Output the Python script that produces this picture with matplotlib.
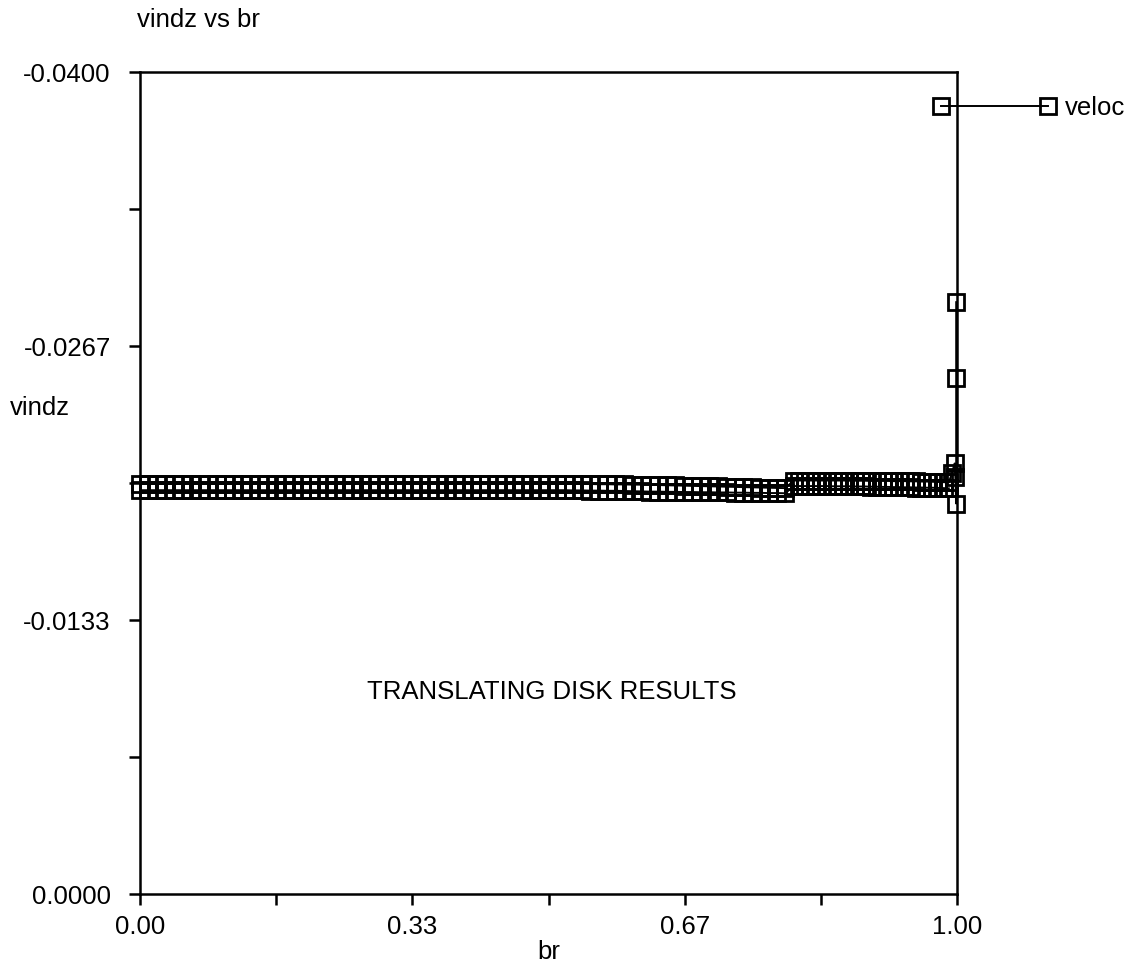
import matplotlib
matplotlib.use("Agg")
import matplotlib.pyplot as plt
from matplotlib.lines import Line2D

plt.rcParams['font.family'] = ['Liberation Sans', 'DejaVu Sans']

# ---------------- data ----------------
br_inner = [0.000, 0.010, 0.021, 0.031, 0.042, 0.052, 0.062, 0.073, 0.083, 0.094,
            0.104, 0.114, 0.125, 0.135, 0.146, 0.156, 0.166, 0.177, 0.187, 0.198,
            0.208, 0.218, 0.229, 0.239, 0.250, 0.260, 0.270, 0.281, 0.291, 0.302,
            0.312, 0.322, 0.333, 0.343, 0.354, 0.364, 0.374, 0.385, 0.395, 0.406,
            0.416, 0.426, 0.437, 0.447, 0.458, 0.468, 0.478, 0.489, 0.499, 0.510,
            0.520, 0.530, 0.541, 0.551, 0.562, 0.572, 0.582, 0.593, 0.603, 0.614,
            0.624, 0.634, 0.645, 0.655, 0.666, 0.676, 0.686, 0.697, 0.707, 0.718,
            0.728, 0.738, 0.749, 0.759, 0.770, 0.780, 0.790]
vindz_inner_a = [
    -0.01995, -0.01995, -0.01995, -0.01995, -0.01995, -0.01995, -0.01995, -0.01995, -0.01995, -0.01995,
    -0.01995, -0.01995, -0.01995, -0.01995, -0.01995, -0.01995, -0.01995, -0.01995, -0.01995, -0.01995,
    -0.01995, -0.01995, -0.01995, -0.01995, -0.01995, -0.01995, -0.01995, -0.01995, -0.01995, -0.01995,
    -0.01995, -0.01995, -0.01995, -0.01995, -0.01995, -0.01995, -0.01995, -0.01995, -0.01995, -0.01995,
    -0.01995, -0.01995, -0.01995, -0.01995, -0.01995, -0.01995, -0.01995, -0.01995, -0.01995, -0.01995,
    -0.01995, -0.01995, -0.01995, -0.01995, -0.01994, -0.01994, -0.01993, -0.01993, -0.01992, -0.01992,
    -0.01991, -0.01990, -0.01989, -0.01988, -0.01987, -0.01986, -0.01985, -0.01984, -0.01983, -0.01982,
    -0.01981, -0.01980, -0.01979, -0.01978, -0.01977, -0.01976, -0.01975]
vindz_inner_b = [
    -0.01965, -0.01965, -0.01965, -0.01965, -0.01965, -0.01965, -0.01965, -0.01965, -0.01965, -0.01965,
    -0.01965, -0.01965, -0.01965, -0.01965, -0.01965, -0.01965, -0.01965, -0.01965, -0.01965, -0.01965,
    -0.01965, -0.01965, -0.01965, -0.01965, -0.01965, -0.01965, -0.01965, -0.01965, -0.01965, -0.01965,
    -0.01965, -0.01965, -0.01965, -0.01965, -0.01965, -0.01965, -0.01965, -0.01965, -0.01965, -0.01965,
    -0.01965, -0.01965, -0.01965, -0.01965, -0.01965, -0.01965, -0.01965, -0.01965, -0.01965, -0.01965,
    -0.01965, -0.01964, -0.01964, -0.01963, -0.01963, -0.01962, -0.01962, -0.01961, -0.01960, -0.01959,
    -0.01958, -0.01958, -0.01957, -0.01957, -0.01956, -0.01956, -0.01955, -0.01955, -0.01954, -0.01954,
    -0.01953, -0.01953, -0.01952, -0.01952, -0.01951, -0.01951, -0.01950]

br_outer = [0.800, 0.807, 0.814, 0.820, 0.827, 0.834, 0.841, 0.848, 0.854, 0.861,
            0.868, 0.875, 0.882, 0.888, 0.895, 0.902, 0.909, 0.916, 0.922, 0.929,
            0.936, 0.943, 0.950, 0.956, 0.963, 0.970, 0.977, 0.984, 0.990]
vindz_outer_a = [-0.02012, -0.02012, -0.02012, -0.02012, -0.02012, -0.02012, -0.02012, -0.02012, -0.02012, -0.02012,
                 -0.02011, -0.02011, -0.02011, -0.02011, -0.02010, -0.02010, -0.02010, -0.02010, -0.02009, -0.02009,
                 -0.02009, -0.02008, -0.02008, -0.02007, -0.02007, -0.02006, -0.02005, -0.02004, -0.02003]
vindz_outer_b = [-0.01985, -0.01985, -0.01985, -0.01985, -0.01985, -0.01985, -0.01985, -0.01984, -0.01984, -0.01984,
                 -0.01984, -0.01983, -0.01983, -0.01983, -0.01982, -0.01982, -0.01981, -0.01981, -0.01980, -0.01980,
                 -0.01979, -0.01979, -0.01978, -0.01978, -0.01977, -0.01977, -0.01976, -0.01975, -0.01974]

br_edge = [0.994, 0.997, 0.998, 0.999, 0.999, 0.999]
vindz_edge = [-0.02050, -0.02095, -0.02030, -0.01900, -0.02510, -0.02880]

series_label = "veloc"
x_ticks = [0.0, 1/3, 2/3, 1.0]
x_ticklabels = ["0.00", "0.33", "0.67", "1.00"]
x_minor = [1/6, 0.5, 5/6]
y_ticks = [0.0, -0.04/3, -0.08/3, -0.04]
y_ticklabels = ["0.0000", "-0.0133", "-0.0267", "-0.0400"]
y_minor = [-0.02/3, -0.02, -0.10/3]

# ---------------- figure ----------------
fig = plt.figure(figsize=(11.36, 9.68), dpi=100)
ax = fig.add_axes([140/1136, 1 - 894/968, (957 - 140)/1136, (894 - 72)/968])

style = dict(color='black', lw=1.4, marker='s', ms=12, mfc='none', mec='black', mew=2.0)
ax.plot(br_inner + br_outer + br_edge, vindz_inner_a + vindz_outer_a + vindz_edge,
        clip_on=False, **style)
ax.plot(br_inner + br_outer, vindz_inner_b + vindz_outer_b, clip_on=False, **style)

ax.set_xlim(0, 1)
ax.set_ylim(0, -0.04)

ax.set_xticks(x_ticks)
ax.set_xticklabels(x_ticklabels)
ax.set_xticks(x_minor, minor=True)
ax.set_yticks(y_ticks)
ax.set_yticklabels(y_ticklabels)
ax.set_yticks(y_minor, minor=True)

for side in ['left', 'right', 'top', 'bottom']:
    ax.spines[side].set_linewidth(1.8)
ax.tick_params(axis='both', which='both', direction='out', length=8, width=1.8,
               labelsize=18.5, top=False, right=False)
ax.tick_params(axis='y', which='both', pad=13)
ax.tick_params(axis='x', which='both', pad=7)

ax.set_xlabel("br", fontsize=18.5)
ax.xaxis.set_label_coords(0.5, (894 - 952) / 822, transform=ax.transAxes)
ax.xaxis.label.set_va('center')
ax.set_ylabel("vindz", fontsize=18.5, rotation=0, ha='left', va='center')
ax.yaxis.set_label_coords((10 - 140) / 817, (894 - 408) / 822)

fig.text(137/1136, 1 - 20/968, "vindz vs br", fontsize=18.5, ha='left', va='center')
ax.text(0.504, -0.00983, "TRANSLATING DISK RESULTS", fontsize=18.5, ha='center', va='center')

handle = Line2D([], [], **style)
ax.legend([handle], [series_label], loc='center left',
          bbox_to_anchor=(933.5/1136, 1 - 108/968), bbox_transform=fig.transFigure,
          frameon=False, numpoints=2, handlelength=4.75, handletextpad=0.35,
          borderpad=0, borderaxespad=0, fontsize=18.5)

fig.savefig("out.png", dpi=100)
